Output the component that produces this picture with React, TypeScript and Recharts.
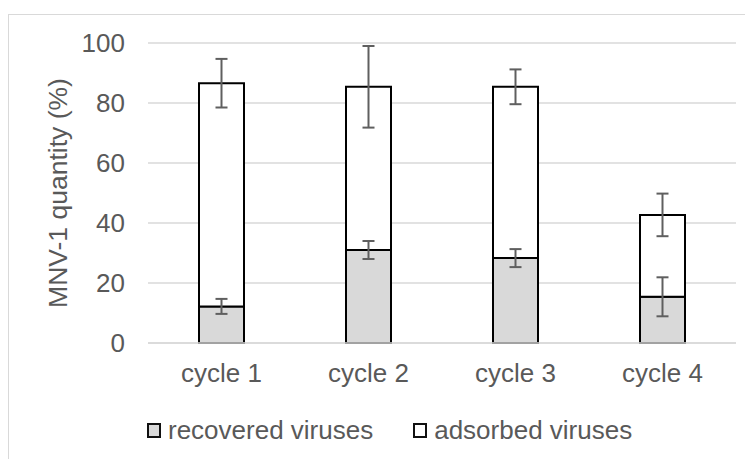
import React from "react";
import {
  Bar,
  CartesianGrid,
  ComposedChart,
  ErrorBar,
  Label,
  Legend,
  Line,
  XAxis,
  YAxis,
} from "recharts";

const CYCLES = ["cycle 1", "cycle 2", "cycle 3", "cycle 4"];
const RECOVERED = [12.2, 31.0, 28.3, 15.4];
const ADSORBED = [74.4, 54.4, 57.1, 27.3];
const RECOVERED_ERR = [2.5, 3.0, 3.0, 6.5];
const TOTAL_ERR = [8.1, 13.6, 5.8, 7.1];
const Y_TICKS = [0, 20, 40, 60, 80, 100];

const FONT = "'Liberation Sans', Arial, sans-serif";
const FS = 26;
const TEXT = "#595959";
const GRID = "#d9d9d9";
const GREY_FILL = "#d9d9d9";
const ERR = "#5f5f5f";

const data = CYCLES.map((c, i) => ({
  cycle: c,
  recovered: RECOVERED[i],
  adsorbed: ADSORBED[i],
  recErr: RECOVERED_ERR[i],
  totErr: TOTAL_ERR[i],
}));

const LEGEND_ITEMS = [
  { label: "recovered viruses", fill: GREY_FILL },
  { label: "adsorbed viruses", fill: "#ffffff" },
];

function renderLegend() {
  return (
    <div style={{ display: "flex", alignItems: "center", fontFamily: FONT, fontSize: FS, color: TEXT }}>
      {LEGEND_ITEMS.map((it, i) => (
        <div key={it.label} style={{ display: "flex", alignItems: "center", marginLeft: i ? 40 : 0 }}>
          <span
            style={{
              display: "inline-block",
              width: 10,
              height: 11,
              border: "2px solid #111",
              background: it.fill,
              marginRight: 7,
            }}
          />
          <span>{it.label}</span>
        </div>
      ))}
    </div>
  );
}

function renderYLabel(props: any) {
  const vb = props.viewBox;
  const cy = vb.y + vb.height / 2;
  return (
    <text
      x={50}
      y={cy}
      transform={`rotate(-90, 50, ${cy})`}
      textAnchor="middle"
      dominantBaseline="central"
      fill={TEXT}
      fontSize={FS + 0.5}
      fontFamily={FONT}
    >
      MNV-1 quantity (%)
    </text>
  );
}

export default function App() {
  return (
    <div style={{ paddingTop: 6 }}>
      <div
        style={{
          position: "relative",
          width: 745,
          height: 445,
          borderTop: `1px solid ${GRID}`,
          borderLeft: `1px solid ${GRID}`,
          boxSizing: "border-box",
        }}
      >
        <div style={{ position: "absolute", left: -1, top: -1 }}>
          <ComposedChart
            width={745}
            height={445}
            data={data}
            margin={{ top: 29, right: 17, bottom: 55, left: 0 }}
          >
            <CartesianGrid vertical={false} stroke={GRID} strokeWidth={1.5} />
            <XAxis
              dataKey="cycle"
              axisLine={{ stroke: GRID, strokeWidth: 1.5 }}
              tickLine={false}
              tickMargin={15}
              tick={{ fill: TEXT, fontSize: FS, fontFamily: FONT }}
            />
            <YAxis
              width={140}
              domain={[0, 100]}
              ticks={Y_TICKS}
              axisLine={false}
              tickLine={false}
              tickMargin={17}
              tick={{ fill: TEXT, fontSize: FS, fontFamily: FONT }}
            >
              <Label content={renderYLabel} />
            </YAxis>
            <Legend
              content={renderLegend}
              wrapperStyle={{ left: 139, top: 401, width: "auto" }}
            />
            <Bar
              dataKey="recovered"
              stackId="a"
              fill={GREY_FILL}
              stroke="#000"
              strokeWidth={2}
              barSize={45}
              isAnimationActive={false}
            />
            <Bar
              dataKey="adsorbed"
              stackId="a"
              fill="#ffffff"
              stroke="#000"
              strokeWidth={2}
              barSize={45}
              isAnimationActive={false}
            >
              <ErrorBar dataKey="totErr" width={6} stroke={ERR} strokeWidth={2} direction="y" />
            </Bar>
            <Line
              dataKey="recovered"
              stroke="none"
              dot={false}
              activeDot={false}
              legendType="none"
              isAnimationActive={false}
            >
              <ErrorBar dataKey="recErr" width={6} stroke={ERR} strokeWidth={2} direction="y" />
            </Line>
          </ComposedChart>
        </div>
      </div>
    </div>
  );
}
